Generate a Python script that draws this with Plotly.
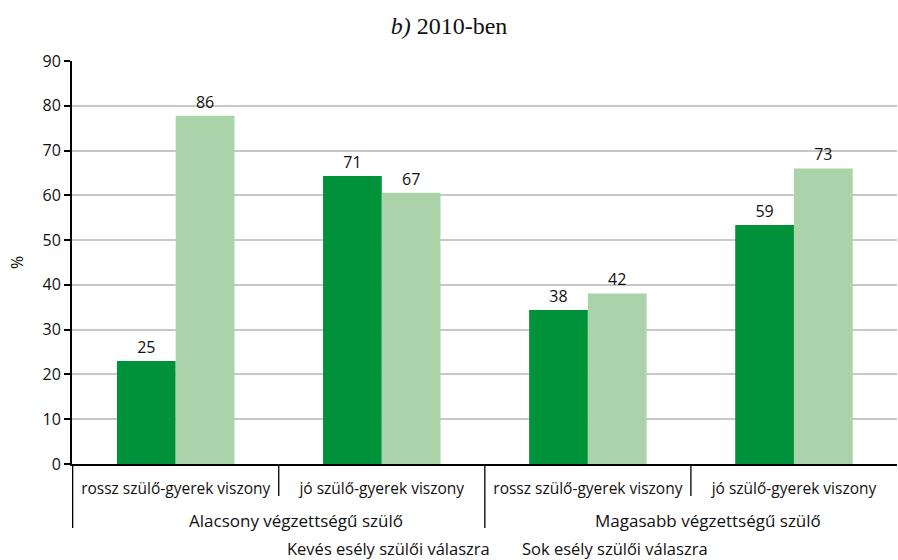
import plotly.graph_objects as go

outer = ["Alacsony végzettségű szülő", "Magasabb végzettségű szülő"]
inner = ["rossz szülő-gyerek viszony", "jó szülő-gyerek viszony",
         "rossz szülő-gyerek viszony", "jó szülő-gyerek viszony"]
categories = [outer[0] + " – " + inner[0], outer[0] + " – " + inner[1],
              outer[1] + " – " + inner[2], outer[1] + " – " + inner[3]]

series_names = ["Kevés esély szülői válaszra", "Sok esély szülői válaszra"]
# bar heights
kevés_heights = [23.0, 64.3, 34.4, 53.4]
sok_heights = [77.8, 60.6, 38.1, 66.0]
# data labels printed above the bars
kevés_labels = [25, 71, 38, 59]
sok_labels = [86, 67, 42, 73]

y_ticks = [0, 10, 20, 30, 40, 50, 60, 70, 80, 90]

colors = ["#00923a", "#aad3aa"]
font = "Open Sans, Noto Sans, sans-serif"

fig = go.Figure()
for name, h, lab, c in [(series_names[0], kevés_heights, kevés_labels, colors[0]),
                        (series_names[1], sok_heights, sok_labels, colors[1])]:
    fig.add_trace(go.Bar(
        name=name, x=categories, y=h, text=[str(v) for v in lab],
        textposition="outside", cliponaxis=False,
        textfont=dict(size=16, color="#111", family=font),
        marker=dict(color=c, line=dict(width=0)),
    ))

fig.update_layout(
    width=898, height=560,
    margin=dict(l=72, r=1, t=61, b=96, autoexpand=False),
    barmode="group", bargap=0.43, bargroupgap=0,
    plot_bgcolor="white", paper_bgcolor="white",
    showlegend=False,
    font=dict(family=font, color="#111"),
    title=dict(text="<i>b)</i> 2010-ben", x=0.5, xanchor="center", y=0.954,
               yanchor="middle",
               font=dict(family="Liberation Serif, serif", size=24, color="#111")),
)
fig.update_xaxes(
    type="category", automargin=False, showline=True, linecolor="black", linewidth=2,
    tickvals=categories, ticktext=inner,
    ticks="outside", ticklen=9, tickcolor="rgba(0,0,0,0)",
    tickfont=dict(size=15.5, family=font, color="#111"),
    showgrid=False,
)
fig.update_yaxes(
    range=[0, 90], tickvals=y_ticks, automargin=False,
    showline=True, linecolor="black", linewidth=2,
    ticks="outside", ticklen=6, tickcolor="black", tickwidth=1.5,
    showgrid=True, gridcolor="#c8c8c8", gridwidth=1.5, zeroline=False,
    tickfont=dict(size=16, family=font, color="#111"),
    title=dict(text="%", font=dict(size=16, family=font), standoff=15),
)

# category dividers below the axis: inner boundaries short, group boundaries long
for xb, length in [(0.5, 32), (2.5, 32), (-0.5, 64), (1.5, 64)]:
    fig.add_shape(type="line", xref="x", yref="paper", ysizemode="pixel", yanchor=0,
                  x0=xb, x1=xb, y0=0, y1=-length,
                  line=dict(color="black", width=1.3))

# outer group labels
for lbl, xc in zip(outer, [0.5, 2.5]):
    fig.add_annotation(text=lbl, xref="x", yref="paper", x=xc, y=0, yshift=-56,
                       xshift=17, xanchor="center", yanchor="middle", showarrow=False,
                       font=dict(size=17, family=font, color="#111"))

# legend texts
for name, xc in zip(series_names, [388, 615]):
    fig.add_annotation(text=name, xref="paper", yref="paper",
                       x=(xc - 72) / 825, y=0, yshift=-84,
                       xanchor="center", yanchor="middle", showarrow=False,
                       font=dict(size=16.5, family=font, color="#111"))

# remove the default page margin so the 898x560 figure fills the window exactly
fig.write_html("out.html", config={"displayModeBar": False},
               post_script="document.body.style.margin='0';document.body.style.overflow='hidden';")
